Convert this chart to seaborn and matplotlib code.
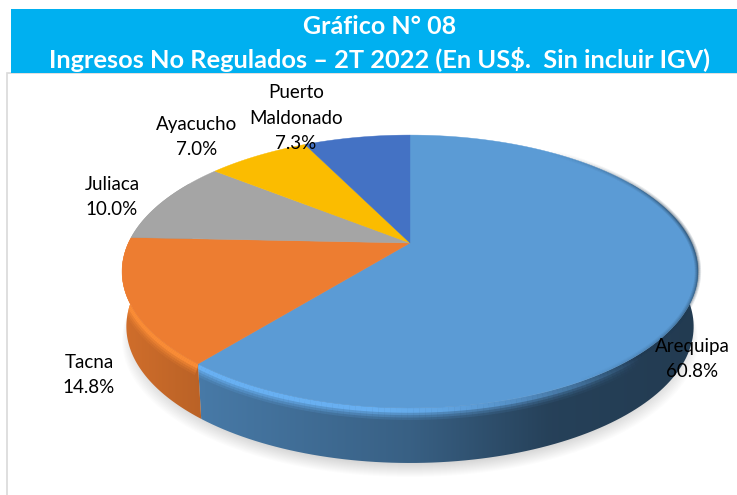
import numpy as np
import matplotlib.pyplot as plt
from matplotlib.collections import LineCollection
from matplotlib.colors import to_rgba
from matplotlib.patches import Polygon, Rectangle
import seaborn as sns

# data
regions = ['Arequipa', 'Tacna', 'Juliaca', 'Ayacucho', 'Puerto\nMaldonado']
shares = [60.8, 14.8, 10.0, 7.0, 7.3]
title_lines = ['Gráfico N° 08', 'Ingresos No Regulados – 2T 2022 (En US$.  Sin incluir IGV)']

slice_colors = sns.color_palette(['#5b9bd5', '#ed7d31', '#a5a5a5', '#fbbc00', '#4472c4'])
rim_colors = ['#6cb6fa', '#ff9038', '#a5a5a5', '#fbbc00', '#4472c4']

# label anchor in pixels
label_pos = [(692, 359), (89, 375), (112, 197), (197, 137), (296, 118)]

# pie geometry in pixels, far side squeezed a bit for the perspective look
apex_x, apex_y = 410, 243
rad_x, rad_y = 281.6, 130.5
persp = 0.209
depth = 55


def rim(theta, drop=0.0):
    # theta in degrees, clockwise from 12 o'clock
    t = np.radians(theta)
    w = 1 + persp * np.cos(t)
    return apex_x + rad_x * np.sin(t) / w, apex_y - rad_y * np.cos(t) / w + drop


def wall_shade(x):
    return np.interp(x, [122, 205, 410, 550, 698], [0.88, 0.78, 0.62, 0.42, 0.38])


def wall_outline(a, b):
    th = np.linspace(a, b, 120)
    x1, y1 = rim(th)
    x2, y2 = rim(th, depth)
    x2 = apex_x + (x2 - apex_x) * 0.985
    return np.column_stack([np.r_[x1, x2[::-1]], np.r_[y1, y2[::-1]]])


def rim_band(th, off, color, alpha, lw, z, clip=None):
    # rim line with an alpha per segment
    x, y = rim(th, off)
    segs = np.stack([np.column_stack([x[:-1], y[:-1]]), np.column_stack([x[1:], y[1:]])], axis=1)
    rgba = np.tile(to_rgba(color), (len(segs), 1))
    rgba[:, 3] = alpha
    lc = LineCollection(segs, colors=rgba, linewidths=lw, zorder=z)
    ax.add_collection(lc)
    if clip is not None:
        lc.set_clip_path(Polygon(clip, closed=True, transform=ax.transData))


sns.set_theme(style='white')
plt.rcParams['font.family'] = ['Lato', 'DejaVu Sans']

fig = plt.figure(figsize=(7.37, 4.95), dpi=100)
ax = fig.add_axes([0, 0, 1, 1])
ax.axis('off')
ax.set_xlim(0, 737)
ax.set_ylim(495, 0)

# header band and chart frame
ax.add_patch(Rectangle((7, 73), 740, 430, fc='white', ec='#d9d9d9', lw=1.2, zorder=1))
ax.add_patch(Rectangle((11, 9), 730, 63.5, fc='#00b0f0', ec='none', zorder=2))
ax.text(380, 27, title_lines[0], color='white', fontsize=18, fontweight='bold',
        ha='center', va='center', zorder=3)
ax.text(380, 60, title_lines[1], color='white', fontsize=18.3, fontweight='bold',
        ha='center', va='center', zorder=3)

# soft shadow under the pie
ring = np.linspace(0, 360, 241)
sx, sy = rim(ring, depth)
for i in range(14):
    k = 1.0 - i * 0.003
    ax.fill(apex_x + (sx - apex_x) * k, sy + 14 - i, color='black', alpha=0.011, lw=0, zorder=3)

# slice angles come from the shares
edges = np.concatenate([[0], np.cumsum(shares)]) / np.sum(shares) * 360

# side wall, only the part facing the viewer
for i in range(len(shares)):
    a = max(edges[i], 60)
    b = min(edges[i + 1], 300)
    if a >= b:
        continue
    pts = wall_outline(a, b)
    xs = np.arange(np.floor(pts[:, 0].min()), np.ceil(pts[:, 0].max()) + 1)
    grad = np.array(slice_colors[i])[None, None, :] * wall_shade(xs)[None, :, None]
    im = ax.imshow(grad, extent=[xs[0], xs[-1], pts[:, 1].max(), pts[:, 1].min()],
                   aspect='auto', zorder=4, interpolation='bilinear')
    im.set_clip_path(Polygon(pts, closed=True, transform=ax.transData))

# bright bevel on the wall, front left side, fades out toward the right
for i in range(len(shares)):
    a = max(edges[i], 135)
    b = min(edges[i + 1], 272)
    if a >= b:
        continue
    th = np.linspace(a, b, 90)
    fade = np.clip((th[:-1] - 135) / 50, 0, 1)
    for lw, off, k in [(10, 5, 0.15), (8, 4, 0.25), (6, 3, 0.4), (4, 2, 0.8)]:
        rim_band(th, off, rim_colors[i], k * fade, lw, 5, clip=wall_outline(a, b))

# top face
for i in range(len(shares)):
    th = np.linspace(edges[i], edges[i + 1], 120)
    x, y = rim(th)
    ax.fill(np.r_[apex_x, x], np.r_[apex_y, y], color=slice_colors[i], lw=0.3, zorder=6)

# dark soft edge at the right of the rim
th = np.linspace(35, 150, 150)
fade = np.clip((th[:-1] - 35) / 45, 0, 1) * np.clip((150 - th[:-1]) / 50, 0, 1)
for lw, k in [(4.5, 0.15), (3, 0.2), (1.5, 0.3)]:
    rim_band(th, 0, '#1f3a52', k * fade, lw, 7)

# data labels
for name, val, (lx, ly) in zip(regions, shares, label_pos):
    ax.text(lx, ly, f'{name}\n{val:.1f}%', color='black', fontsize=13.5, ha='center',
            va='center', linespacing=1.62, zorder=8)

ax.set_xlim(0, 737)
ax.set_ylim(495, 0)
fig.savefig('out.png', dpi=100, facecolor='white')
